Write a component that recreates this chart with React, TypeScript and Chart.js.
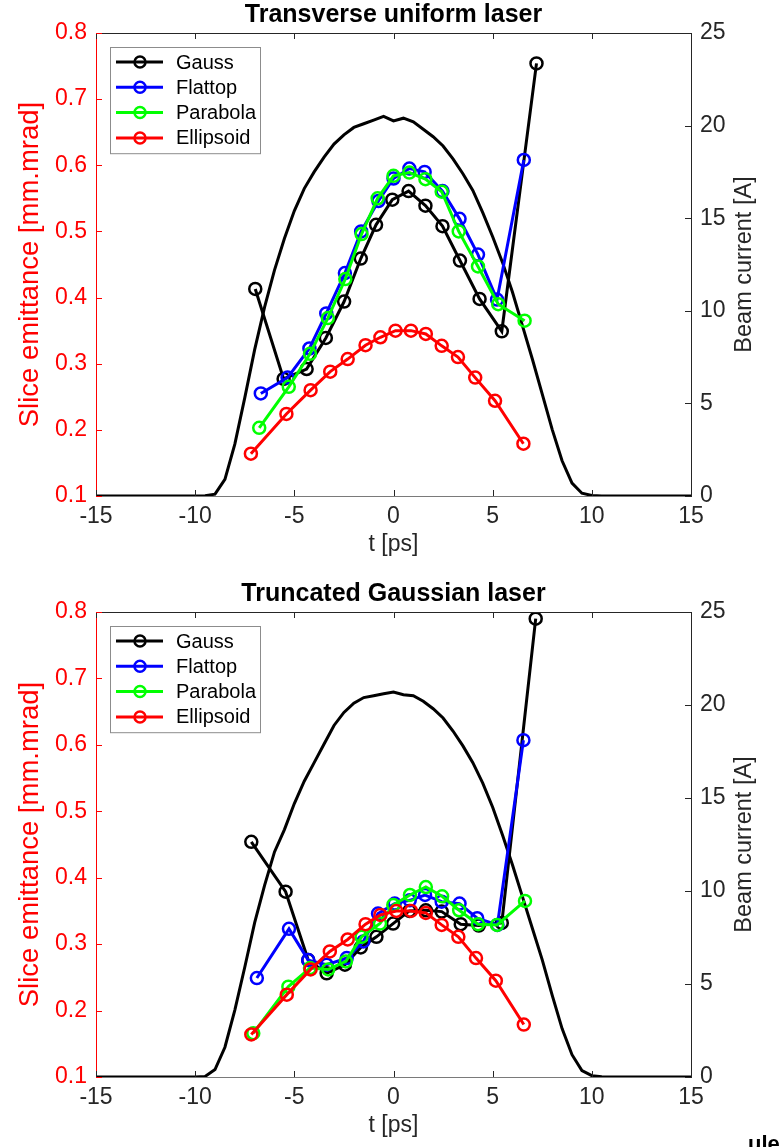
import React, { useEffect, useRef } from "react";
import { Chart, registerables } from "chart.js";

Chart.register(...registerables);

// ---------- data ----------
const SERIES_NAMES = ["Gauss", "Flattop", "Parabola", "Ellipsoid"];

// shared time grid of the beam current profiles [ps]
const currentT = [
  -15, -10, -9.5, -9, -8.5, -8, -7.5, -7, -6.5, -6, -5.5, -5, -4.5, -4, -3.5, -3, -2.5, -2, -1.5, -1, -0.5,
  0, 0.5, 1, 1.5, 2, 2.5, 3, 3.5, 4, 4.5, 5, 5.5, 6, 6.5, 7, 7.5, 8, 8.5, 9, 9.5, 10, 10.5, 15,
];
const currentTop = [
  0, 0, 0.02, 0.1, 0.9, 2.8, 5.3, 7.9, 10.2, 12.2, 13.9, 15.4, 16.6, 17.5, 18.3, 19.0, 19.5, 19.9, 20.1, 20.3, 20.5,
  20.25, 20.4, 20.2, 19.8, 19.4, 18.9, 18.2, 17.4, 16.5, 15.3, 14.0, 12.6, 11.0, 9.2, 7.4, 5.5, 3.6, 1.9, 0.7, 0.15, 0.03, 0, 0,
];
const currentBottom = [
  0, 0, 0.03, 0.4, 1.6, 3.6, 5.9, 8.3, 10.3, 12.1, 13.3, 14.7, 15.9, 16.9, 17.9, 18.9, 19.6, 20.1, 20.4, 20.5, 20.6,
  20.7, 20.55, 20.5, 20.2, 19.8, 19.3, 18.6, 17.8, 16.9, 15.8, 14.5, 13.0, 11.4, 9.7, 8.0, 6.3, 4.4, 2.6, 1.2, 0.35, 0.07, 0.01, 0,
];

// Transverse uniform laser
const gaussTTop = [-6.97, -5.54, -4.38, -3.41, -2.49, -1.65, -0.88, -0.06, 0.76, 1.61, 2.47, 3.35, 4.34, 5.46, 7.21];
const gaussETop = [0.413, 0.277, 0.292, 0.339, 0.394, 0.459, 0.51, 0.548, 0.561, 0.539, 0.508, 0.456, 0.398, 0.349, 0.754];
const flatTTop = [-6.69, -5.34, -4.24, -3.39, -2.45, -1.63, -0.76, 0, 0.8, 1.57, 2.47, 3.33, 4.26, 5.22, 6.57];
const flatETop = [0.255, 0.279, 0.323, 0.376, 0.437, 0.5, 0.546, 0.58, 0.595, 0.59, 0.561, 0.519, 0.465, 0.397, 0.608];
const paraTTop = [-6.77, -5.28, -4.21, -3.31, -2.43, -1.61, -0.8, 0, 0.8, 1.61, 2.43, 3.29, 4.26, 5.28, 6.61];
const paraETop = [0.203, 0.265, 0.315, 0.369, 0.428, 0.496, 0.55, 0.584, 0.589, 0.579, 0.56, 0.5, 0.447, 0.39, 0.365];
const ellTTop = [-7.19, -5.4, -4.18, -3.19, -2.31, -1.41, -0.66, 0.1, 0.88, 1.63, 2.43, 3.25, 4.12, 5.12, 6.55];
const ellETop = [0.164, 0.224, 0.26, 0.288, 0.307, 0.328, 0.34, 0.35, 0.35, 0.345, 0.327, 0.31, 0.279, 0.244, 0.179];

// Truncated Gaussian laser
const gaussTBot = [-7.17, -5.44, -4.3, -3.37, -2.45, -1.65, -0.86, -0.02, 0.8, 1.63, 2.43, 3.39, 4.3, 5.46, 7.17];
const gaussEBot = [0.454, 0.379, 0.276, 0.256, 0.269, 0.295, 0.311, 0.331, 0.35, 0.351, 0.349, 0.33, 0.328, 0.332, 0.79];
const flatTBot = [-6.89, -5.27, -4.3, -3.37, -2.36, -1.52, -0.78, 0.06, 0.82, 1.59, 2.43, 3.33, 4.22, 5.24, 6.55];
const flatEBot = [0.249, 0.323, 0.276, 0.269, 0.279, 0.304, 0.346, 0.361, 0.366, 0.374, 0.364, 0.361, 0.339, 0.329, 0.607];
const paraTBot = [-7.07, -5.3, -4.21, -3.29, -2.4, -1.61, -0.68, -0.01, 0.83, 1.63, 2.45, 3.31, 4.26, 5.22, 6.63];
const paraEBot = [0.166, 0.236, 0.264, 0.262, 0.274, 0.311, 0.331, 0.359, 0.374, 0.386, 0.372, 0.351, 0.33, 0.329, 0.365];
const ellTBot = [-7.17, -5.38, -4.18, -3.21, -2.31, -1.41, -0.66, 0.14, 0.88, 1.63, 2.43, 3.27, 4.16, 5.16, 6.57];
const ellEBot = [0.164, 0.224, 0.262, 0.289, 0.307, 0.33, 0.344, 0.35, 0.35, 0.347, 0.329, 0.311, 0.279, 0.245, 0.179];

// axis limits / ticks
const T_MIN = -15;
const T_MAX = 15;
const T_STEP = 5;
const E_MIN = 0.1;
const E_MAX = 0.8;
const E_STEP = 0.1;
const I_MIN = 0;
const I_MAX = 25;
const I_STEP = 5;

// ---------- styles ----------
const FONT = "'Liberation Sans', Arial, Helvetica, sans-serif";
const COLORS = ["#000000", "#0000ff", "#00ff00", "#ff0000"];
const AXIS_DARK = "#262626";
const W = 782;

const zip = (t: number[], v: number[]) => t.map((x, i) => ({ x, y: v[i] }));

const decorPlugin = {
  id: "matlabDecor",
  afterDraw(chart: any, _args: any, opts: any) {
    const { ctx, chartArea } = chart;
    const { left, right, top, bottom } = chartArea;
    const xs = chart.scales.x;
    const ys = chart.scales.y;
    const y2 = chart.scales.y1;
    const TL = 6;
    ctx.save();
    ctx.lineWidth = 1;
    // top box line
    ctx.strokeStyle = AXIS_DARK;
    ctx.beginPath();
    ctx.moveTo(left, Math.round(top) + 0.5);
    ctx.lineTo(right, Math.round(top) + 0.5);
    ctx.stroke();
    // x ticks inward (bottom and top)
    xs.ticks.forEach((t: any) => {
      const px = Math.round(xs.getPixelForValue(t.value)) + 0.5;
      ctx.beginPath();
      ctx.moveTo(px, bottom);
      ctx.lineTo(px, bottom - TL);
      ctx.moveTo(px, top);
      ctx.lineTo(px, top + TL);
      ctx.stroke();
    });
    // right axis ticks
    y2.ticks.forEach((t: any) => {
      const py = Math.round(y2.getPixelForValue(t.value)) + 0.5;
      ctx.beginPath();
      ctx.moveTo(right, py);
      ctx.lineTo(right - TL, py);
      ctx.stroke();
    });
    // left axis ticks (red)
    ctx.strokeStyle = "#ff0000";
    ys.ticks.forEach((t: any) => {
      const py = Math.round(ys.getPixelForValue(t.value)) + 0.5;
      ctx.beginPath();
      ctx.moveTo(left, py);
      ctx.lineTo(left + TL, py);
      ctx.stroke();
    });

    // title
    ctx.fillStyle = "#000000";
    ctx.font = `bold 25px ${FONT}`;
    ctx.textAlign = "center";
    ctx.textBaseline = "middle";
    ctx.fillText(opts.title, (left + right) / 2, top - 18);

    // x title
    ctx.fillStyle = AXIS_DARK;
    ctx.font = `23px ${FONT}`;
    ctx.fillText(opts.xTitle, (left + right) / 2, bottom + 49);

    // y titles (both read bottom-to-top)
    const midY = (top + bottom) / 2;
    ctx.save();
    ctx.translate(30, midY);
    ctx.rotate(-Math.PI / 2);
    ctx.fillStyle = "#ff0000";
    ctx.font = `27.5px ${FONT}`;
    ctx.fillText(opts.yTitle, 0, 0);
    ctx.restore();
    ctx.save();
    ctx.translate(745, midY);
    ctx.rotate(-Math.PI / 2);
    ctx.fillStyle = AXIS_DARK;
    ctx.font = `23.5px ${FONT}`;
    ctx.fillText(opts.y2Title, 0, 0);
    ctx.restore();

    // legend box
    const lx = left + 14;
    const ly = top + 14;
    const lw = 150;
    const rowH = 25.3;
    const entries = chart.data.datasets.filter((d: any) => d.inLegend);
    const lh = entries.length * rowH + 5;
    ctx.fillStyle = "#ffffff";
    ctx.fillRect(lx, ly, lw, lh);
    ctx.strokeStyle = "#8c8c8c";
    ctx.lineWidth = 1;
    ctx.strokeRect(Math.round(lx) + 0.5, Math.round(ly) + 0.5, lw, lh);
    entries.forEach((d: any, i: number) => {
      const cy = ly + 15 + i * rowH;
      ctx.strokeStyle = d.borderColor;
      ctx.lineWidth = 3;
      ctx.beginPath();
      ctx.moveTo(lx + 6, cy);
      ctx.lineTo(lx + 53, cy);
      ctx.stroke();
      ctx.lineWidth = 2.5;
      ctx.beginPath();
      ctx.arc(lx + 30, cy, 5.5, 0, Math.PI * 2);
      ctx.stroke();
      ctx.fillStyle = "#000000";
      ctx.font = `20px ${FONT}`;
      ctx.textAlign = "left";
      ctx.textBaseline = "middle";
      ctx.fillText(d.label, lx + 66, cy + 1);
    });
    ctx.restore();
  },
};

function makeConfig(
  title: string,
  seriesT: number[][],
  seriesE: number[][],
  current: number[],
  xAxisHeight: number
): any {
  const datasets: any[] = seriesT.map((t, i) => ({
    label: SERIES_NAMES[i],
    inLegend: true,
    data: zip(t, seriesE[i]),
    yAxisID: "y",
    showLine: true,
    borderColor: COLORS[i],
    borderWidth: 3,
    pointRadius: 6,
    pointBorderWidth: 2.5,
    pointBorderColor: COLORS[i],
    pointBackgroundColor: "rgba(0,0,0,0)",
    pointStyle: "circle",
    order: 3 - i,
    tension: 0,
  }));
  datasets.push({
    label: "Beam current",
    inLegend: false,
    data: zip(currentT, current),
    yAxisID: "y1",
    showLine: true,
    borderColor: "#000000",
    borderWidth: 3,
    pointRadius: 0,
    order: 4,
    tension: 0,
  });
  const tickFont = { family: FONT, size: 23 };
  return {
    type: "scatter",
    data: { datasets },
    plugins: [decorPlugin],
    options: {
      responsive: false,
      animation: false,
      devicePixelRatio: 1,
      layout: { padding: { top: 33, left: 0, right: 0, bottom: 0 } },
      plugins: {
        legend: { display: false },
        title: { display: false },
        tooltip: { enabled: false },
        matlabDecor: { title, xTitle: "t [ps]", yTitle: "Slice emittance [mm.mrad]", y2Title: "Beam current [A]" },
      },
      scales: {
        x: {
          type: "linear",
          position: "bottom",
          min: T_MIN,
          max: T_MAX,
          grid: { display: false, drawTicks: false },
          border: { display: true, color: "#7a7a7a", width: 1 },
          ticks: { stepSize: T_STEP, color: AXIS_DARK, font: tickFont, padding: 7, maxRotation: 0 },
          afterFit: (s: any) => {
            s.height = xAxisHeight;
          },
        },
        y: {
          type: "linear",
          position: "left",
          min: E_MIN,
          max: E_MAX,
          grid: { display: false, drawTicks: false },
          border: { display: true, color: "#ff0000", width: 1 },
          ticks: {
            stepSize: E_STEP,
            color: "#ff0000",
            font: tickFont,
            padding: 9,
            callback: (v: any) => Number(v).toFixed(1),
          },
          afterFit: (s: any) => {
            s.width = 96;
          },
        },
        y1: {
          type: "linear",
          position: "right",
          min: I_MIN,
          max: I_MAX,
          grid: { display: false, drawTicks: false },
          border: { display: true, color: AXIS_DARK, width: 1 },
          ticks: { stepSize: I_STEP, color: AXIS_DARK, font: tickFont, padding: 9 },
          afterFit: (s: any) => {
            s.width = W - 691;
          },
        },
      },
    },
  };
}

function Panel({ top, height, config }: { top: number; height: number; config: () => any }) {
  const ref = useRef<HTMLCanvasElement>(null);
  useEffect(() => {
    const chart = new Chart(ref.current as HTMLCanvasElement, config());
    return () => chart.destroy();
  }, []);
  return (
    <canvas
      ref={ref}
      width={W}
      height={height}
      style={{ position: "absolute", left: 0, top, width: W, height, display: "block" }}
    />
  );
}

export default function App() {
  return (
    <div
      style={{
        position: "absolute",
        left: 0,
        top: 0,
        width: W,
        height: 1147,
        background: "#ffffff",
        overflow: "hidden",
      }}
    >
      <Panel
        top={0}
        height={570}
        config={() =>
          makeConfig(
            "Transverse uniform laser",
            [gaussTTop, flatTTop, paraTTop, ellTTop],
            [gaussETop, flatETop, paraETop, ellETop],
            currentTop,
            74
          )
        }
      />
      <Panel
        top={579}
        height={568}
        config={() =>
          makeConfig(
            "Truncated Gaussian laser",
            [gaussTBot, flatTBot, paraTBot, ellTBot],
            [gaussEBot, flatEBot, paraEBot, ellEBot],
            currentBottom,
            70
          )
        }
      />
      <div
        style={{
          position: "absolute",
          left: 748,
          top: 1131,
          height: 16,
          overflow: "hidden",
          fontFamily: FONT,
          fontWeight: "bold",
          fontSize: 22,
          lineHeight: "26px",
          color: "#000",
        }}
      >
        ule
      </div>
    </div>
  );
}
